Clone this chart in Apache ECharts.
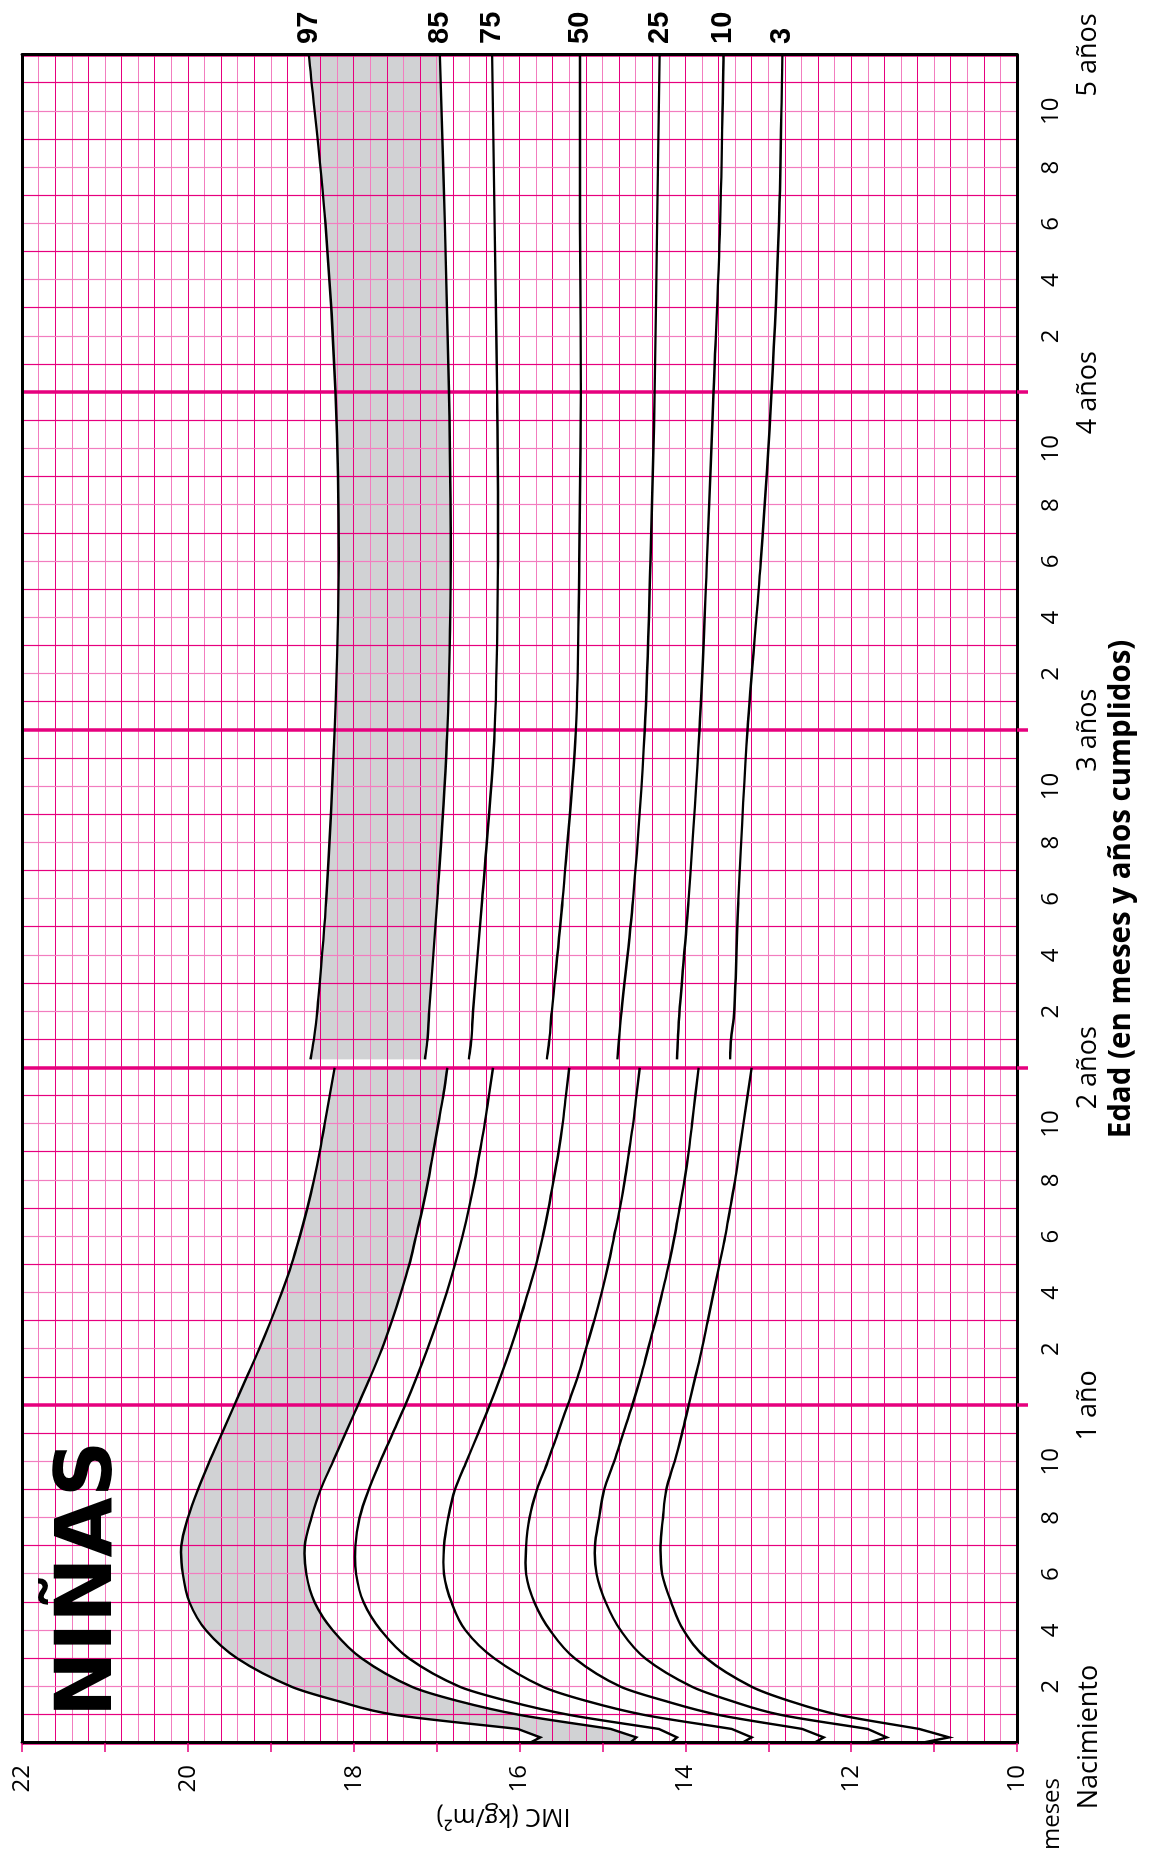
<!DOCTYPE html>
<html><head><meta charset="utf-8">
<script src="https://cdn.jsdelivr.net/npm/echarts@6/dist/echarts.min.js"></script>
<style>
html,body{margin:0;padding:0;width:1159px;height:1854px;overflow:hidden;background:#fff}
#chart{position:absolute;left:0;top:0;width:1854px;height:1159px;transform-origin:0 0;transform:translate(0,1854px) rotate(-90deg);}
</style></head><body><div id="chart"></div>
<script>
// ---------- DATA ----------
// ages in months, 0-24 (lying length) and 24-60 (standing height)
const ageLower = [0, 0.2, 0.5, 1, 1.5, 2, 3, 4, 5, 6, 7, 8, 9, 10, 11, 12, 13, 14, 15, 16, 17, 18, 19, 20, 21, 22, 23, 24];
const ageUpper = [24.3, 25, 26, 30, 36, 42, 48, 54, 60];

const p97Lower = [15.88, 15.75, 16.02, 17.5, 18.2, 18.75, 19.4, 19.78, 19.98, 20.06, 20.08, 20.0, 19.88, 19.74, 19.59, 19.44, 19.29, 19.14, 19.00, 18.87, 18.75, 18.65, 18.56, 18.48, 18.41, 18.35, 18.29, 18.23];
const p85Lower = [14.67, 14.59, 14.9, 16.0, 16.75, 17.3, 17.9, 18.25, 18.47, 18.57, 18.59, 18.51, 18.40, 18.25, 18.10, 17.95, 17.80, 17.66, 17.54, 17.43, 17.33, 17.25, 17.17, 17.10, 17.04, 16.98, 16.92, 16.87];
const p75Lower = [14.18, 14.10, 14.32, 15.4, 16.15, 16.72, 17.33, 17.67, 17.88, 17.97, 17.98, 17.93, 17.82, 17.68, 17.53, 17.38, 17.24, 17.11, 16.99, 16.88, 16.78, 16.69, 16.61, 16.54, 16.48, 16.42, 16.37, 16.32];
const p50Lower = [13.32, 13.20, 13.44, 14.5, 15.2, 15.72, 16.3, 16.65, 16.82, 16.91, 16.91, 16.86, 16.78, 16.64, 16.50, 16.36, 16.23, 16.11, 16.00, 15.90, 15.80, 15.72, 15.65, 15.59, 15.53, 15.48, 15.44, 15.40];
const p25Lower = [12.45, 12.33, 12.59, 13.6, 14.25, 14.78, 15.33, 15.63, 15.82, 15.92, 15.92, 15.88, 15.79, 15.66, 15.54, 15.42, 15.30, 15.20, 15.10, 15.01, 14.93, 14.86, 14.79, 14.73, 14.68, 14.63, 14.59, 14.55];
const p10Lower = [11.81, 11.57, 11.80, 12.85, 13.45, 13.92, 14.48, 14.78, 14.96, 15.07, 15.09, 15.04, 14.98, 14.86, 14.75, 14.64, 14.54, 14.45, 14.36, 14.28, 14.20, 14.13, 14.07, 14.01, 13.96, 13.92, 13.88, 13.84];
const p3Lower  = [11.16, 10.82, 11.18, 12.15, 12.75, 13.2, 13.74, 14.02, 14.17, 14.28, 14.30, 14.27, 14.23, 14.13, 14.04, 13.96, 13.88, 13.80, 13.73, 13.66, 13.59, 13.52, 13.46, 13.40, 13.35, 13.30, 13.25, 13.20];

const p97Upper = [18.52, 18.48, 18.44, 18.33, 18.23, 18.18, 18.22, 18.34, 18.54];
const p85Upper = [17.14, 17.11, 17.09, 16.99, 16.87, 16.83, 16.85, 16.90, 16.96];
const p75Upper = [16.61, 16.58, 16.56, 16.45, 16.30, 16.26, 16.27, 16.30, 16.33];
const p50Upper = [15.67, 15.64, 15.61, 15.48, 15.32, 15.28, 15.26, 15.27, 15.27];
const p25Upper = [14.82, 14.80, 14.77, 14.63, 14.49, 14.42, 14.37, 14.34, 14.31];
const p10Upper = [14.10, 14.09, 14.07, 13.96, 13.83, 13.74, 13.66, 13.58, 13.54];
const p3Upper  = [13.46, 13.45, 13.41, 13.36, 13.25, 13.09, 12.96, 12.87, 12.83];

const percentileLabels = ['97', '85', '75', '50', '25', '10', '3'];
const imcTicks = [10, 12, 14, 16, 18, 20, 22];
const yearLabels = ['Nacimiento', '1 año', '2 años', '3 años', '4 años', '5 años'];
const monthUnit = 'meses';
const yearTickValues = [12, 24, 36, 48];
const title = 'NIÑAS';
const xTitle = 'Edad (en meses y años cumplidos)';
const yTitle = 'IMC (kg/m²)';

// ---------- BUILD ----------
const lowers = [p97Lower, p85Lower, p75Lower, p50Lower, p25Lower, p10Lower, p3Lower];
const uppers = [p97Upper, p85Upper, p75Upper, p50Upper, p25Upper, p10Upper, p3Upper];
const FONT = '"Open Sans", "Noto Sans", sans-serif';
const PINK = '#e6007e';
const PINK_L = '#f27dbf';
const EARLY = 3; // first points (birth zig-zag) joined by straight segments

// cubic Hermite segments in pixel space, tangents from finite differences over age
function segments(api, ages, vals, from, to, linear) {
  const P = [], A = [];
  for (let i = from; i < to; i++) { P.push(api.coord([ages[i], vals[i]])); A.push(ages[i]); }
  const n = P.length, out = [];
  const tan = i => {
    const a = i === 0 ? 0 : i - 1, b = i === n - 1 ? n - 1 : i + 1;
    const dt = A[b] - A[a];
    return [(P[b][0] - P[a][0]) / dt, (P[b][1] - P[a][1]) / dt];
  };
  for (let i = 0; i < n - 1; i++) {
    if (linear) { out.push([P[i], P[i], P[i + 1], P[i + 1]]); continue; }
    const h = A[i + 1] - A[i], t0 = tan(i), t1 = tan(i + 1);
    out.push([P[i], [P[i][0] + t0[0] * h / 3, P[i][1] + t0[1] * h / 3],
      [P[i + 1][0] - t1[0] * h / 3, P[i + 1][1] - t1[1] * h / 3], P[i + 1]]);
  }
  return out;
}
function lowerSegs(api, vals) {
  return segments(api, ageLower, vals, 0, EARLY, true)
    .concat(segments(api, ageLower, vals, EARLY - 1, ageLower.length, false));
}
function upperSegs(api, vals) {
  return segments(api, ageUpper, vals, 0, ageUpper.length, false);
}
const f = p => p[0].toFixed(2) + ' ' + p[1].toFixed(2);
function pathOf(segs) {
  let d = 'M' + f(segs[0][0]);
  segs.forEach(s => { d += 'C' + f(s[1]) + ' ' + f(s[2]) + ' ' + f(s[3]); });
  return d;
}
function bandPath(top, bottom) {
  let d = pathOf(top);
  const rev = bottom.slice().reverse();
  d += 'L' + f(rev[0][3]);
  rev.forEach(s => { d += 'C' + f(s[2]) + ' ' + f(s[1]) + ' ' + f(s[0]); });
  return d + 'Z';
}

function renderBand(params, api) {
  if (params.dataIndex !== 0) return null;
  return { type: 'group', children: [
    { type: 'path', shape: { pathData: bandPath(lowerSegs(api, p97Lower), lowerSegs(api, p85Lower)) },
      style: { fill: '#d1d2d4', stroke: null } },
    { type: 'path', shape: { pathData: bandPath(upperSegs(api, p97Upper), upperSegs(api, p85Upper)) },
      style: { fill: '#d1d2d4', stroke: null } }
  ] };
}
function renderCurves(params, api) {
  if (params.dataIndex !== 0) return null;
  const children = [];
  lowers.forEach((vals, k) => {
    children.push({ type: 'path', shape: { pathData: pathOf(lowerSegs(api, vals)) },
      style: { fill: null, stroke: '#000', lineWidth: 2.4, lineJoin: 'miter' } });
    const us = upperSegs(api, uppers[k]);
    children.push({ type: 'path', shape: { pathData: pathOf(us) },
      style: { fill: null, stroke: '#000', lineWidth: 2.4 } });
    const end = us[us.length - 1][3];
    children.push({ type: 'text', x: end[0] + 11, y: end[1],
      style: { text: percentileLabels[k], fill: '#000', align: 'left', verticalAlign: 'middle',
        font: 'bold 29px "Liberation Sans", Arial, sans-serif' } });
  });
  return { type: 'group', children };
}
const anchorData = ageLower.map((a, i) => [a, p97Lower[i]]);

function ageLabel(v) {
  if (v === 0) return '';
  if (v % 12 === 0) return '{e| }\n{y|' + yearLabels[v / 12] + '}';
  return '{d|' + (v % 12) + '}';
}

const option = {
  animation: false,
  backgroundColor: '#fff',
  grid: { left: 111, right: 55, top: 22, bottom: 142 },
  graphic: [
    { type: 'text', left: 137, top: 52, z: 10,
      style: { text: title, font: 'bold 78px "DejaVu Sans", sans-serif', fill: '#000' } },
    { type: 'text', x: 40, y: 1052, z: 10,
      style: { text: monthUnit, font: '24px "Open Sans", sans-serif', fill: '#000', align: 'center', verticalAlign: 'middle' } },
    { type: 'text', x: 117, y: 1089, z: 10,
      style: { text: yearLabels[0], font: '27px "Open Sans", sans-serif', fill: '#000', align: 'center', verticalAlign: 'middle' } }
  ],
  xAxis: [
    { type: 'value', min: 0, max: 60, interval: 2, position: 'bottom', z: 3,
      axisLine: { show: true, onZero: false, lineStyle: { color: '#000', width: 3 } },
      axisTick: { show: true, customValues: yearTickValues, length: 11, lineStyle: { color: PINK, width: 3.5 } },
      splitLine: { show: false },
      axisLabel: { show: true, showMinLabel: true, showMaxLabel: true, hideOverlap: false, margin: 16,
        formatter: ageLabel, color: '#000', fontFamily: FONT, fontSize: 24,
        rich: {
          d: { fontFamily: FONT, fontSize: 24, lineHeight: 37, color: '#000' },
          e: { fontFamily: FONT, fontSize: 24, lineHeight: 37 },
          y: { fontFamily: FONT, fontSize: 27, lineHeight: 37, color: '#000' }
        } },
      name: xTitle, nameLocation: 'middle', nameGap: 88,
      nameTextStyle: { fontFamily: FONT, fontWeight: 'bold', fontSize: 29.5, color: '#000', padding: [0, 0, 0, 20], verticalAlign: 'top' }
    },
    { type: 'value', min: 0, max: 60, interval: 1, position: 'top', z: 1,
      axisLine: { show: true, onZero: false, lineStyle: { color: '#000', width: 3 } },
      axisTick: { show: false }, axisLabel: { show: false },
      splitLine: { show: true, lineStyle: { color: [PINK_L, PINK], width: 1.2 } } },
    { type: 'value', min: 0, max: 60, interval: 12, z: 1,
      axisLine: { show: false }, axisTick: { show: false }, axisLabel: { show: false },
      splitLine: { show: true, lineStyle: { color: PINK, width: 3.5 } } }
  ],
  yAxis: [
    { type: 'value', min: 10, max: 22, interval: 1, position: 'left', z: 3,
      axisLine: { show: true, onZero: false, lineStyle: { color: '#000', width: 3 } },
      axisTick: { show: true, length: 9, lineStyle: { color: PINK, width: 1.5 } },
      splitLine: { show: false },
      axisLabel: { show: true, margin: 22, color: '#000', fontFamily: FONT, fontSize: 24,
        formatter: v => (imcTicks.indexOf(v) >= 0 ? String(v) : '') },
      name: yTitle, nameLocation: 'middle', nameRotate: 90, nameGap: 42,
      nameTextStyle: { fontFamily: FONT, fontSize: 25, color: '#000', padding: [0, 0, 0, 32] } },
    { type: 'value', min: 10, max: 22, position: 'right', z: 3,
      axisLine: { show: true, onZero: false, lineStyle: { color: '#000', width: 3 } },
      axisTick: { show: false }, axisLabel: { show: false }, splitLine: { show: false } },
    { type: 'value', min: 10, max: 22, interval: 0.2, z: 1,
      axisLine: { show: false }, axisTick: { show: false }, axisLabel: { show: false },
      splitLine: { show: true, lineStyle: { color: [PINK, PINK_L], width: 1.2 } } }
  ],
  series: [
    { type: 'custom', coordinateSystem: 'cartesian2d', xAxisIndex: 0, yAxisIndex: 0, z: 0, silent: true,
      data: anchorData, encode: { x: 0, y: 1 }, renderItem: renderBand },
    { type: 'custom', coordinateSystem: 'cartesian2d', xAxisIndex: 0, yAxisIndex: 0, z: 2, silent: true,
      data: anchorData, encode: { x: 0, y: 1 }, renderItem: renderCurves }
  ]
};
const chart = echarts.init(document.getElementById('chart'), null, { renderer: 'canvas' });
chart.setOption(option);
</script></body></html>
